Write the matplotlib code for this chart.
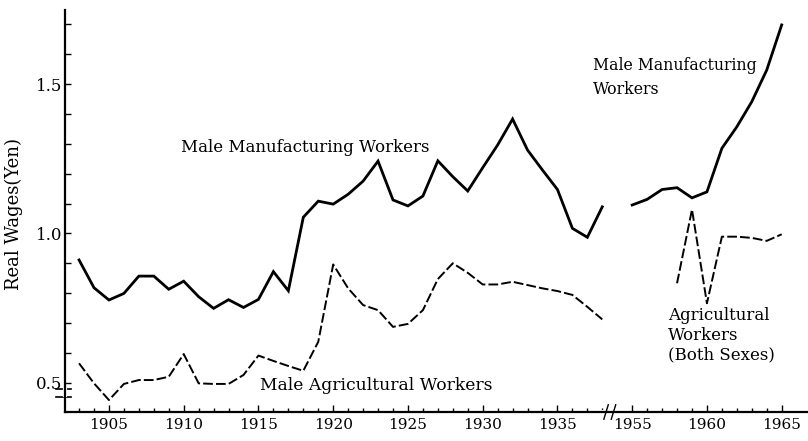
import matplotlib.pyplot as plt
import numpy as np

# data (real wages, yen)
years_pre = list(range(1903, 1939))
mfg_pre = [0.911, 0.818, 0.777, 0.799, 0.857, 0.857, 0.813, 0.840, 0.788, 0.749,
           0.778, 0.752, 0.779, 0.872, 0.808, 1.054, 1.108, 1.098, 1.131, 1.175,
           1.242, 1.112, 1.092, 1.125, 1.243, 1.190, 1.142, 1.220, 1.296, 1.383,
           1.279, 1.212, 1.147, 1.017, 0.987, 1.089]
agr_pre = [0.565, 0.498, 0.442, 0.496, 0.509, 0.509, 0.520, 0.596, 0.498, 0.496,
           0.496, 0.526, 0.591, 0.573, 0.556, 0.540, 0.637, 0.896, 0.816, 0.760,
           0.743, 0.687, 0.697, 0.743, 0.847, 0.900, 0.868, 0.829, 0.829, 0.838,
           0.827, 0.816, 0.807, 0.794, 0.754, 0.712]

years_post_mfg = list(range(1955, 1966))
mfg_post = [1.095, 1.114, 1.147, 1.153, 1.119, 1.139, 1.285, 1.357, 1.441, 1.547, 1.698]
years_post_agr = list(range(1958, 1966))
agr_post = [0.833, 1.080, 0.766, 0.989, 0.989, 0.985, 0.975, 0.997]

x_labels = [1905, 1910, 1915, 1920, 1925, 1930, 1935, 1955, 1960, 1965]
y_labels = [0.5, 1.0, 1.5]

# the axis skips 1939-1954: post-war years are drawn shifted left
SHIFT = 15


def xpos(years):
    return [y - SHIFT if y >= 1950 else y for y in years]


plt.rcParams['font.family'] = ['DejaVu Serif']

fig = plt.figure(figsize=(8.08, 4.41), dpi=100)
ax = fig.add_axes([65 / 808, 29 / 441, 743 / 808, 402 / 441])

solid = dict(color='black', lw=2.0, solid_joinstyle='miter')
dash = dict(color='black', lw=1.4, dashes=(5, 1.6))

ax.plot(xpos(years_pre), mfg_pre, **solid)
ax.plot(xpos(years_post_mfg), mfg_post, **solid)
ax.plot(xpos(years_pre), agr_pre, **dash)
ax.plot(xpos(years_post_agr), agr_post, **dash)

ax.set_xlim(1902.06, 1951.76)
ax.set_ylim(0.402, 1.748)

for s in ['top', 'right']:
    ax.spines[s].set_visible(False)
for s in ['left', 'bottom']:
    ax.spines[s].set_linewidth(1.6)

# ticks
minor_years = list(range(1903, 1939)) + list(range(1955, 1966))
ax.set_xticks(xpos(x_labels))
ax.set_xticklabels([str(v) for v in x_labels], fontsize=11)
ax.set_xticks(xpos(minor_years), minor=True)
ax.set_yticks(y_labels)
ax.set_yticklabels(['0.5', '1.0', '1.5'], fontsize=12)
ax.set_yticks(np.round(np.arange(0.5, 1.71, 0.1), 1), minor=True)
ax.tick_params(axis='x', which='major', direction='in', length=5, width=1, pad=4)
ax.tick_params(axis='x', which='minor', direction='in', length=3, width=1)
ax.tick_params(axis='y', which='major', direction='in', length=4, width=1, pad=2)
ax.tick_params(axis='y', which='minor', direction='in', length=4, width=1)

ax.set_ylabel('Real Wages(Yen)', fontsize=13)
ax.yaxis.set_label_coords(-0.056, 0.4925)

# axis break marks
tr = ax.transAxes
ax.plot([-0.012, 0.008], [0.058, 0.058], transform=tr, color='black', lw=1.2, clip_on=False)
ax.plot([-0.012, 0.008], [0.038, 0.038], transform=tr, color='black', lw=1.2, clip_on=False)
ax.plot([0, 0], [0.042, 0.054], transform=tr, color='white', lw=3, clip_on=False)
bx = (1938.55 - 1902.06) / (1951.76 - 1902.06)
ax.plot([bx - 0.012, bx + 0.012], [0, 0], transform=tr, color='white', lw=3, clip_on=False)
for d in (-0.006, 0.004):
    ax.plot([bx + d - 0.003, bx + d + 0.003], [-0.018, 0.018], transform=tr,
            color='black', lw=1.0, clip_on=False)

# labels on the lines
ax.text(1909.8, 1.289, 'Male Manufacturing Workers', fontsize=12, va='center')
ax.text(1915.1, 0.492, 'Male Agricultural Workers', fontsize=12.3, va='center')
ax.text(1937.35, 1.59, 'Male Manufacturing\nWorkers', fontsize=11.3,
        linespacing=1.5, va='top')
ax.text(1942.4, 0.752, 'Agricultural\nWorkers\n(Both Sexes)', fontsize=12,
        linespacing=1.2, va='top')

fig.savefig('out.png', dpi=100)
